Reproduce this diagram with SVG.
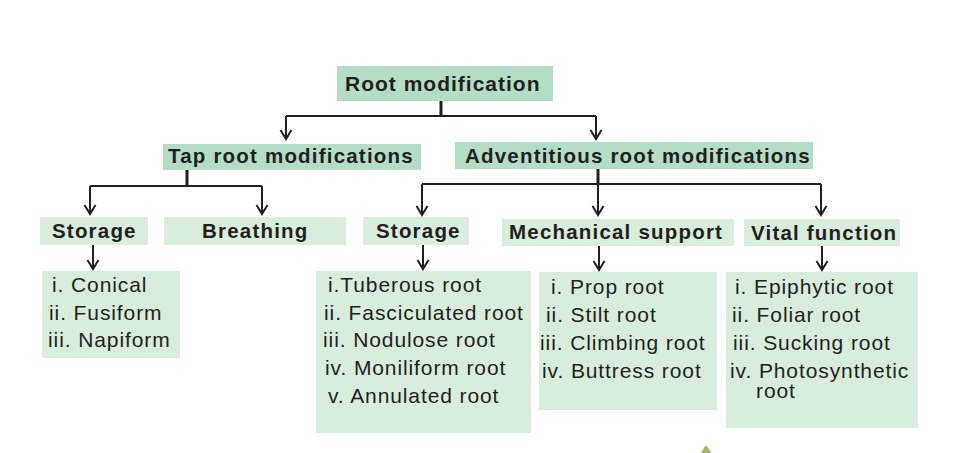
<svg xmlns="http://www.w3.org/2000/svg" width="965" height="453" viewBox="0 0 965 453">
<style>
.dark{fill:#b3dec5}
.light{fill:#d8eddc}
.h{font-family:"Liberation Sans",Arial,sans-serif;font-weight:bold;font-size:20.5px;letter-spacing:1.2px;fill:#231f20}
.t{font-family:"Liberation Sans",Arial,sans-serif;font-size:21px;letter-spacing:0.9px;fill:#231f20}
.ln{fill:none;stroke:#231f20;stroke-width:2}
.stem{fill:none;stroke:#231f20;stroke-width:3}
.ar{fill:none;stroke:#231f20;stroke-width:2;marker-end:url(#chev)}
</style>
<defs>
<marker id="chev" markerUnits="userSpaceOnUse" viewBox="-11 -7 13 14" refX="0" refY="0" markerWidth="13" markerHeight="14" orient="auto">
<path d="M-9,-5.5 L0,0 L-9,5.5" fill="none" stroke="#231f20" stroke-width="2"/>
</marker>
</defs>
<rect width="965" height="453" fill="#ffffff"/>

<g id="connectors">
<path class="stem" d="M441,101 V116"/>
<path class="ln" d="M286,116 H596"/>
<path class="ar" d="M286,116 V139"/>
<path class="ar" d="M596,116 V139"/>
<path class="stem" d="M187,170 V186"/>
<path class="ln" d="M90,186 H262"/>
<path class="ar" d="M90,186 V214"/>
<path class="ar" d="M262,186 V214"/>
<path class="stem" d="M598,169 V184"/>
<path class="ln" d="M422,184 H821"/>
<path class="ar" d="M422,184 V215"/>
<path class="ar" d="M598,184 V215"/>
<path class="ar" d="M821,184 V215"/>
<path class="ar" d="M93,245 V269"/>
<path class="ar" d="M423,245 V269"/>
<path class="ar" d="M599,246 V270"/>
<path class="ar" d="M822,246 V270"/>
</g>

<g id="root">
<rect class="dark" x="337" y="66" width="216" height="35"/>
<text class="h" x="345" y="91" style="font-size:21px;letter-spacing:1px">Root modification</text>
</g>
<g id="tap">
<rect class="dark" x="163" y="144" width="258" height="26"/>
<text class="h" x="168" y="163">Tap root modifications</text>
</g>
<g id="adventitious">
<rect class="dark" x="455" y="142" width="358" height="27"/>
<text class="h" x="465" y="163">Adventitious root modifications</text>
</g>
<g id="storage1">
<rect class="light" x="40" y="217" width="108" height="28"/>
<text class="h" x="52" y="238">Storage</text>
</g>
<g id="breathing">
<rect class="light" x="164" y="217" width="182" height="28"/>
<text class="h" x="202" y="238">Breathing</text>
</g>
<g id="storage2">
<rect class="light" x="363" y="217" width="106" height="28"/>
<text class="h" x="376" y="238">Storage</text>
</g>
<g id="mechanical">
<rect class="light" x="502" y="219" width="232" height="27"/>
<text class="h" x="509" y="239">Mechanical support</text>
</g>
<g id="vital">
<rect class="light" x="744" y="219" width="156" height="27"/>
<text class="h" x="751" y="240">Vital function</text>
</g>

<g id="list-tap-storage">
<rect class="light" x="42" y="271" width="138" height="87"/>
<text class="t" x="52" y="292">i. Conical</text>
<text class="t" x="49" y="320">ii. Fusiform</text>
<text class="t" x="48" y="347">iii. Napiform</text>
</g>
<g id="list-adv-storage">
<rect class="light" x="316" y="271" width="215" height="162"/>
<text class="t" x="328" y="292">i.Tuberous root</text>
<text class="t" x="324" y="320">ii. Fasciculated root</text>
<text class="t" x="323" y="347">iii. Nodulose root</text>
<text class="t" x="325" y="375">iv. Moniliform root</text>
<text class="t" x="328" y="403">v. Annulated root</text>
</g>
<g id="list-mechanical">
<rect class="light" x="539" y="272" width="178" height="138"/>
<text class="t" x="551" y="294">i. Prop root</text>
<text class="t" x="546" y="322">ii. Stilt root</text>
<text class="t" x="540" y="350">iii. Climbing root</text>
<text class="t" x="542" y="378">iv. Buttress root</text>
</g>
<g id="list-vital">
<rect class="light" x="726" y="272" width="192" height="156"/>
<text class="t" x="735" y="294">i. Epiphytic root</text>
<text class="t" x="732" y="322">ii. Foliar root</text>
<text class="t" x="733" y="350">iii. Sucking root</text>
<text class="t" x="730" y="378">iv. Photosynthetic</text>
<text class="t" x="756" y="398">root</text>
</g>

<path d="M701,453 L704.5,447 Q706,444.5 707.5,447 L711.5,453 Z" fill="#a9b46c"/>
</svg>
